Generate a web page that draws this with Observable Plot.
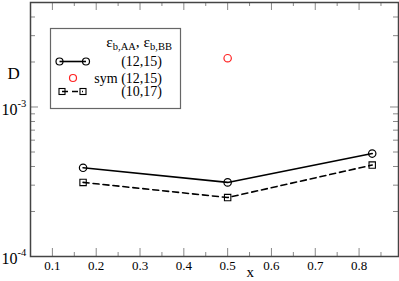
<!DOCTYPE html>
<html>
<head>
<meta charset="utf-8">
<script src="https://cdn.jsdelivr.net/npm/d3@7"></script>
<script src="https://cdn.jsdelivr.net/npm/@observablehq/plot@0.6"></script>
<style>
  html, body { margin: 0; padding: 0; background: #fff; }
  #chart svg { display: block; }
  #chart svg, #chart svg text { font-family: "Liberation Serif", "DejaVu Serif", serif; }
</style>
</head>
<body>
<div id="chart"></div>
<script>
// ---- data ----
const xValues = [0.17, 0.5, 0.83];
const d12_15 = [3.92e-4, 3.13e-4, 4.88e-4];
const d10_17 = [3.13e-4, 2.48e-4, 4.09e-4];
const symX = [0.5];
const symD = [2.12e-3];

const xMajorTicks = [0.1, 0.2, 0.3, 0.4, 0.5, 0.6, 0.7, 0.8];
const xMinorTicks = [0.05, 0.15, 0.25, 0.35, 0.45, 0.55, 0.65, 0.75, 0.85];
const yMajorTicks = [1e-4, 1e-3];
const yMajorExp = ["-4", "-3"];
const yMinorTicks = [2e-4, 3e-4, 4e-4, 5e-4, 6e-4, 7e-4, 8e-4, 9e-4, 2e-3, 3e-3, 4e-3, 5e-3];

const legendHeader = ["ε", "b,AA", ", ε", "b,BB"];
const legendLabels = ["(12,15)", "sym (12,15)", "(10,17)"];

// ---- layout ----
const W = 399, H = 281;
const mL = 30, mR = 1, mT = 2, mB = 25;
const pW = W - mL - mR, pH = H - mT - mB;
const font = "'Liberation Serif', 'DejaVu Serif', serif";

const s1 = xValues.map((x, i) => ({x, y: d12_15[i]}));
const s2 = xValues.map((x, i) => ({x, y: d10_17[i]}));
const s3 = symX.map((x, i) => ({x, y: symD[i]}));

const tickColor = "#888";

const plot = Plot.plot({
  width: W, height: H,
  marginLeft: mL, marginRight: mR, marginTop: mT, marginBottom: mB,
  style: {fontFamily: font, fontSize: "13px", color: "#000", background: "#fff"},
  x: {domain: [0.05, 0.89], ticks: xMajorTicks, tickSize: 0, tickPadding: 4, tickFormat: d3.format(".1f"), label: null},
  y: {type: "log", domain: [1e-4, 5e-3], axis: null},
  marks: [
    // ticks (inward)
    Plot.ruleX(xMajorTicks, {x: d => d, insetTop: pH - 8, stroke: tickColor}),
    Plot.ruleX(xMajorTicks, {x: d => d, insetBottom: pH - 8, stroke: tickColor}),
    Plot.ruleX(xMinorTicks, {x: d => d, insetTop: pH - 4, stroke: tickColor}),
    Plot.ruleX(xMinorTicks, {x: d => d, insetBottom: pH - 4, stroke: tickColor}),
    Plot.ruleY(yMajorTicks, {y: d => d, insetRight: pW - 8, stroke: tickColor}),
    Plot.ruleY(yMajorTicks, {y: d => d, insetLeft: pW - 8, stroke: tickColor}),
    Plot.ruleY(yMinorTicks, {y: d => d, insetRight: pW - 5, stroke: tickColor}),
    Plot.ruleY(yMinorTicks, {y: d => d, insetLeft: pW - 5, stroke: tickColor}),
    Plot.frame({stroke: "#444", strokeWidth: 1.5}),
    // y tick labels 10^n
    Plot.text(yMajorTicks, {y: d => d, text: () => "10", frameAnchor: "left", dx: -13, dy: 2.5, textAnchor: "end", fontSize: 16}),
    Plot.text(yMajorTicks, {y: d => d, text: (d, i) => yMajorExp[i], frameAnchor: "left", dx: -13, dy: -3.5, textAnchor: "start", fontSize: 10.5}),
    // axis labels
    Plot.text(["D"], {frameAnchor: "top-left", dx: -23, dy: 64, fontSize: 17}),
    Plot.text(["x"], {frameAnchor: "bottom-left", dx: 216, dy: 20, fontSize: 15}),
    // series
    Plot.line(s1, {x: "x", y: "y", stroke: "#000", strokeWidth: 1.6}),
    Plot.dot(s1, {x: "x", y: "y", r: 3.7, stroke: "#000", strokeWidth: 1.2, fill: "none"}),
    Plot.line(s2, {x: "x", y: "y", stroke: "#000", strokeWidth: 1.6, strokeDasharray: "6,4"}),
    Plot.dot(s2, {x: "x", y: "y", r: 3.6, symbol: "square", stroke: "#000", strokeWidth: 1.1, fill: "none"}),
    Plot.dot(s3, {x: "x", y: "y", r: 3.7, stroke: "#f22", strokeWidth: 1.2, fill: "none"})
  ]
});

document.getElementById("chart").appendChild(plot);

// ---- legend box (drawn into the Plot SVG) ----
const svg = d3.select(plot);
const lg = svg.append("g").style("font-family", font).attr("fill", "#000");
lg.append("rect").attr("x", 50.5).attr("y", 28.5).attr("width", 130).attr("height", 80)
  .attr("fill", "#fff").attr("stroke", "#666").attr("stroke-width", 1.2);

const hdr = lg.append("text").attr("x", 172).attr("y", 47).attr("text-anchor", "end").attr("font-size", 15.5);
hdr.append("tspan").text(legendHeader[0]);
hdr.append("tspan").attr("font-size", 10.5).attr("dy", 3).text(legendHeader[1]);
hdr.append("tspan").attr("dy", -3).text(legendHeader[2]);
hdr.append("tspan").attr("font-size", 10.5).attr("dy", 3).text(legendHeader[3]);

const rowY = [61.5, 78, 91.5];
// row 1
lg.append("line").attr("x1", 59.5).attr("x2", 86).attr("y1", rowY[0]).attr("y2", rowY[0]).attr("stroke", "#000").attr("stroke-width", 1.6);
[59.5, 86].forEach(cx => lg.append("circle").attr("cx", cx).attr("cy", rowY[0]).attr("r", 3.5).attr("fill", "none").attr("stroke", "#000").attr("stroke-width", 1.2));
// row 2
lg.append("circle").attr("cx", 73).attr("cy", rowY[1]).attr("r", 3.5).attr("fill", "none").attr("stroke", "#f22").attr("stroke-width", 1.2);
// row 3
lg.append("line").attr("x1", 62).attr("x2", 83).attr("y1", rowY[2]).attr("y2", rowY[2]).attr("stroke", "#000").attr("stroke-width", 1.6).attr("stroke-dasharray", "6,4");
[62, 83].forEach(cx => lg.append("rect").attr("x", cx - 3).attr("y", rowY[2] - 3).attr("width", 6).attr("height", 6).attr("fill", "none").attr("stroke", "#000").attr("stroke-width", 1.1));

legendLabels.forEach((t, i) => {
  lg.append("text").attr("x", 162).attr("y", rowY[i]).attr("dy", "0.35em").attr("text-anchor", "end").attr("font-size", 14).text(t);
});
</script>
</body>
</html>
